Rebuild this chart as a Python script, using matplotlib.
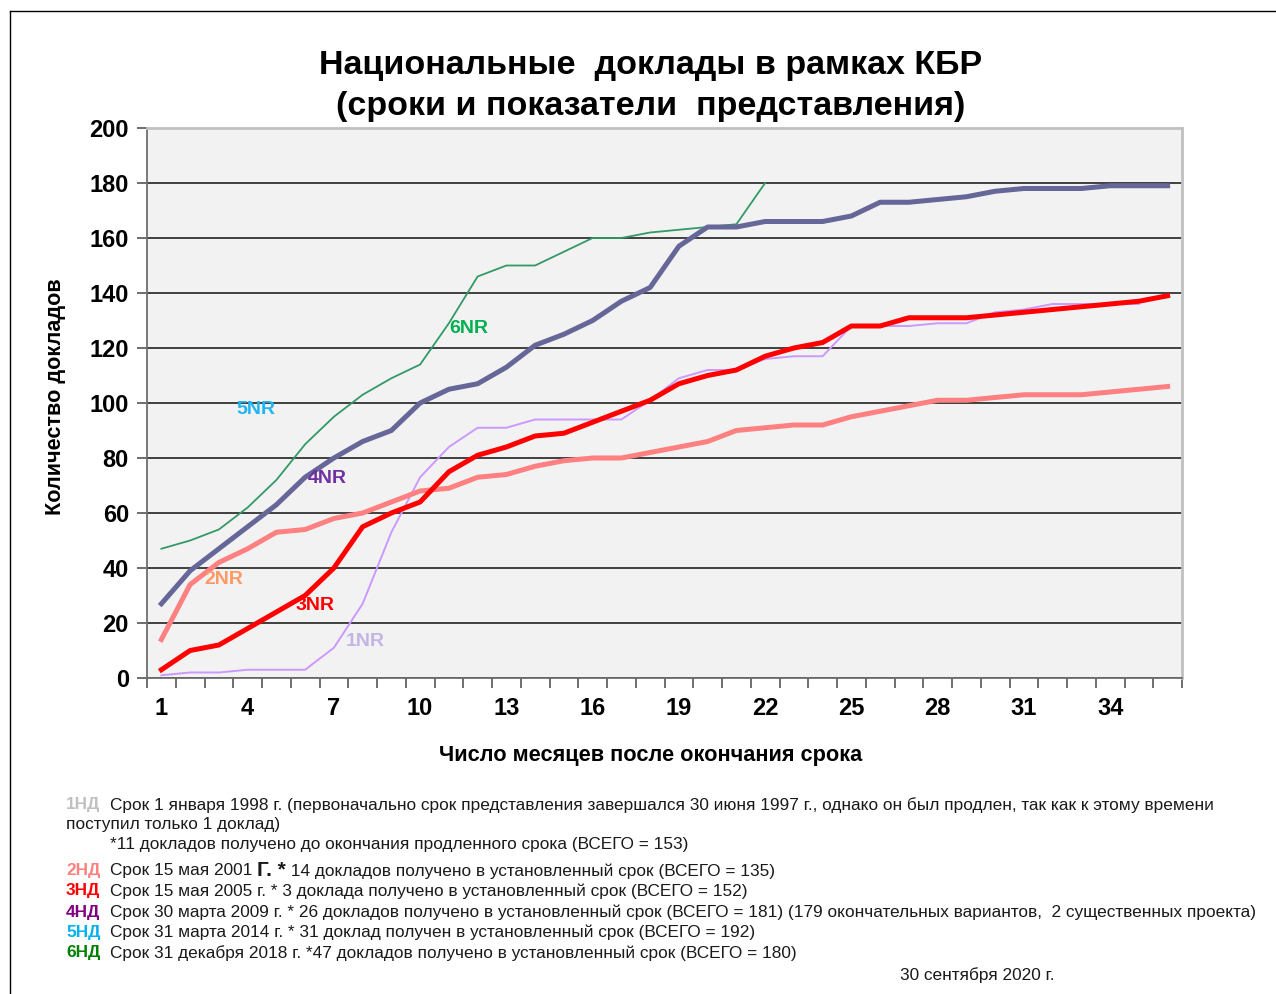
import matplotlib
matplotlib.use("Agg")
import matplotlib.pyplot as plt
from matplotlib.lines import Line2D
from matplotlib.ticker import FixedLocator, MultipleLocator

plt.rcParams['font.family'] = ['Liberation Sans', 'DejaVu Sans']

# months after deadline
months = list(range(1, 37))

# cumulative number of reports per reporting cycle
nr1 = [1, 2, 2, 3, 3, 3, 11, 27, 53, 73, 84, 91, 91, 94, 94, 94, 94, 101, 109, 112,
       112, 116, 117, 117, 128, 128, 128, 129, 129, 133, 134, 136, 136, 136, 136]
nr2 = [14, 34, 42, 47, 53, 54, 58, 60, 64, 68, 69, 73, 74, 77, 79, 80, 80, 82, 84, 86,
       90, 91, 92, 92, 95, 97, 99, 101, 101, 102, 103, 103, 103, 104, 105, 106]
nr3 = [3, 10, 12, 18, 24, 30, 40, 55, 60, 64, 75, 81, 84, 88, 89, 93, 97, 101, 107, 110,
       112, 117, 120, 122, 128, 128, 131, 131, 131, 132, 133, 134, 135, 136, 137, 139]
nr4 = [27, 39, 47, 55, 63, 73, 80, 86, 90, 100, 105, 107, 113, 121, 125, 130, 137, 142, 157, 164,
       164, 166, 166, 166, 168, 173, 173, 174, 175, 177, 178, 178, 178, 179, 179, 179]
nr6 = [47, 50, 54, 62, 72, 85, 95, 103, 109, 114, 129, 146, 150, 150, 155, 160, 160, 162, 163, 164,
       165, 180]

xtick_labels = [1, 4, 7, 10, 13, 16, 19, 22, 25, 28, 31, 34]
yticks = list(range(0, 201, 20))

# series labels inside the plot: (text, x, y, colour)
series_labels = [
    ("6NR", 11.0, 127, '#00b050'),
    ("5NR", 3.6, 97.5, '#21b6f3'),
    ("4NR", 6.1, 72.4, '#7030a0'),
    ("2NR", 2.5, 36, '#ff9966'),
    ("3NR", 5.65, 26.2, '#ff0000'),
    ("1NR", 7.4, 13.1, '#c3b4e6'),
]

# footnotes: (prefix, prefix colour, text)
notes = [
    ("1НД", '#c0c0c0', "Срок 1 января 1998 г. (первоначально срок представления завершался 30 июня 1997 г., однако он был продлен, так как к этому времени"),
    ("", None, "поступил только 1 доклад)"),
    ("", None, "*11 докладов получено до окончания продленного срока (ВСЕГО = 153)"),
    ("2НД", '#ff8080', "Срок 15 мая 2001 |Г. *| 14 докладов получено в установленный срок (ВСЕГО = 135)"),
    ("3НД", '#ff0000', "Срок 15 мая 2005 г. * 3 доклада получено в установленный срок (ВСЕГО = 152)"),
    ("4НД", '#800080', "Срок 30 марта 2009 г. * 26 докладов получено в установленный срок (ВСЕГО = 181) (179 окончательных вариантов,  2 существенных проекта)"),
    ("5НД", '#00b0f0', "Срок 31 марта 2014 г. * 31 доклад получен в установленный срок (ВСЕГО = 192)"),
    ("6НД", '#008000', "Срок 31 декабря 2018 г. *47 докладов получено в установленный срок (ВСЕГО = 180)"),
]
note_y = [805, 825, 845, 871, 891, 912, 932, 953]

W, H = 1276, 994
fig = plt.figure(figsize=(W / 100, H / 100), dpi=100)
ax = fig.add_axes([147 / W, 1 - 678 / H, (1182 - 147) / W, (678 - 128) / H])
ax.set_facecolor('#f2f2f2')

ax.plot(months[:len(nr1)], nr1, color='#cc99ff', lw=1.4, zorder=3)
ax.plot(months, nr2, color='#ff8080', lw=3.6, zorder=3)
ax.plot(months[:len(nr6)], nr6, color='#339966', lw=1.3, zorder=4)
ax.plot(months, nr4, color='#666699', lw=3.6, zorder=4)
ax.plot(months, nr3, color='#ff0000', lw=3.6, zorder=5)

for txt, x, y, c in series_labels:
    ax.text(x, y, txt, color=c, fontsize=14, fontweight='bold', ha='left', va='center', zorder=6)

ax.set_xlim(0.5, 36.5)
ax.set_ylim(0, 200)
ax.set_yticks(yticks)
ax.yaxis.grid(True, color='#222222', lw=1.2)
ax.set_axisbelow(True)
ax.xaxis.set_major_locator(FixedLocator(xtick_labels))
ax.set_xticklabels([str(v) for v in xtick_labels])
ax.xaxis.set_minor_locator(MultipleLocator(1, offset=0.5))
ax.tick_params(axis='x', which='major', length=0, pad=14, labelsize=17)
ax.tick_params(axis='x', which='minor', length=7, width=1.2, color='#555555', direction='out')
ax.tick_params(axis='y', length=7, width=1.2, color='#555555', labelsize=17, pad=6)
for lab in ax.get_xticklabels() + ax.get_yticklabels():
    lab.set_fontweight('bold')

for side in ('top', 'right'):
    ax.spines[side].set_color('#c0c0c0')
    ax.spines[side].set_linewidth(2)
for side in ('left', 'bottom'):
    ax.spines[side].set_color('#6e6e6e')
    ax.spines[side].set_linewidth(1.3)

# title and axis labels
fig.text(651 / W, 1 - 86 / H, "Национальные  доклады в рамках КБР\n(сроки и показатели  представления)",
         ha='center', va='center', fontsize=24.5, fontweight='bold', linespacing=1.38)
fig.text(651 / W, 1 - 755 / H, "Число месяцев после окончания срока",
         ha='center', va='center', fontsize=15.7, fontweight='bold')
fig.text(55 / W, 1 - 397 / H, "Количество докладов", rotation=90,
         ha='center', va='center', fontsize=15.6, fontweight='bold')

# outer frame (left and top edges)
fig.add_artist(Line2D([10 / W, 10 / W], [0, 1 - 11 / H], transform=fig.transFigure, color='black', lw=1))
fig.add_artist(Line2D([10 / W, 1], [1 - 11 / H, 1 - 11 / H], transform=fig.transFigure, color='black', lw=1))

fig.canvas.draw()
renderer = fig.canvas.get_renderer()

NOTE_SIZE = 12.42
for (prefix, pc, body), yp in zip(notes, note_y):
    y = 1 - yp / H
    if prefix:
        fig.text(66 / W, y, prefix, color=pc, fontsize=NOTE_SIZE, fontweight='bold', va='center')
        x = 110
    elif body.startswith("*"):
        x = 110
    else:
        x = 66
    parts = body.split("|")
    for i, part in enumerate(parts):
        big = (i % 2 == 1)
        t = fig.text(x / W, y, part, color='#1a1a1a', fontsize=15 if big else NOTE_SIZE,
                     fontweight='bold' if big else 'normal', va='center')
        x = t.get_window_extent(renderer).x1

fig.text(900 / W, 1 - 975 / H, "30 сентября 2020 г.", color='#1a1a1a', fontsize=NOTE_SIZE, va='center')

fig.savefig("out.png", dpi=100)
